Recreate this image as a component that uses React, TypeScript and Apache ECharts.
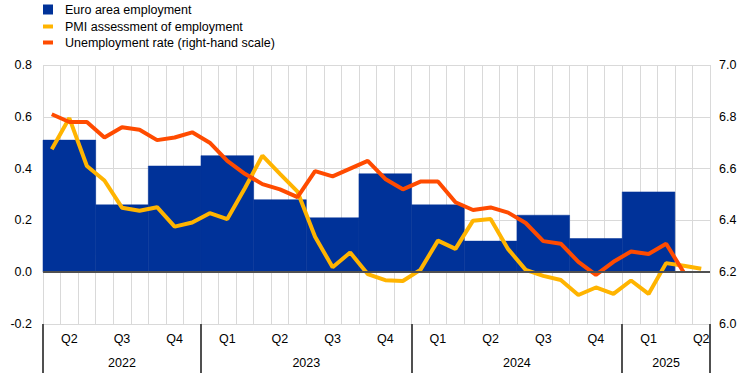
import React, { useEffect, useRef } from "react";
import * as echarts from "echarts";

const months = [
  "Apr 2022", "May 2022", "Jun 2022", "Jul 2022", "Aug 2022", "Sep 2022", "Oct 2022", "Nov 2022", "Dec 2022",
  "Jan 2023", "Feb 2023", "Mar 2023", "Apr 2023", "May 2023", "Jun 2023", "Jul 2023", "Aug 2023", "Sep 2023",
  "Oct 2023", "Nov 2023", "Dec 2023",
  "Jan 2024", "Feb 2024", "Mar 2024", "Apr 2024", "May 2024", "Jun 2024", "Jul 2024", "Aug 2024", "Sep 2024",
  "Oct 2024", "Nov 2024", "Dec 2024",
  "Jan 2025", "Feb 2025", "Mar 2025", "Apr 2025", "May 2025",
];

const quarterLabels = ["Q2", "Q3", "Q4", "Q1", "Q2", "Q3", "Q4", "Q1", "Q2", "Q3", "Q4", "Q1", "Q2"];

const years = ["2022", "2023", "2024", "2025"];
const yearBounds = [0, 9, 21, 33, 38];

const employment = [0.51, 0.26, 0.41, 0.45, 0.28, 0.21, 0.38, 0.26, 0.12, 0.22, 0.13, 0.31, null];

const pmi = [
  0.475, 0.595, 0.41, 0.354, 0.249, 0.237, 0.251, 0.176, 0.192,
  0.228, 0.205, 0.324, 0.45, 0.38, 0.311, 0.137, 0.019, 0.076, -0.007, -0.031, -0.034,
  0.009, 0.122, 0.09, 0.199, 0.205, 0.089, 0.009, -0.014, -0.03, -0.088, -0.059, -0.084,
  -0.032, -0.084, 0.035, 0.025, 0.013,
];

const unemployment = [
  6.81, 6.78, 6.78, 6.72, 6.76, 6.75, 6.71, 6.72, 6.74,
  6.70, 6.63, 6.58, 6.54, 6.52, 6.49, 6.59, 6.57, 6.60, 6.63, 6.56, 6.52,
  6.55, 6.55, 6.47, 6.44, 6.45, 6.43, 6.39, 6.32, 6.31, 6.24, 6.19, 6.24,
  6.28, 6.27, 6.31, 6.20, null,
];

const BLUE = "#003299";
const YELLOW = "#ffb400";
const ORANGE = "#ff4b00";
const GRID = "#d9d9d9";
const DARK = "#505050";
const FONT = 'Arial, "Liberation Sans", sans-serif';
const FS = 12.5;

export default function App() {
  const ref = useRef<HTMLDivElement>(null);

  useEffect(() => {
    if (!ref.current) return;
    const chart = echarts.init(ref.current, null, { renderer: "svg" });

    const barData = employment
      .map((v, q) => (v == null ? null : [q * 3 + 1, v]))
      .filter((d) => d != null);

    const yearCenters = years.map((_, i) => (yearBounds[i] + yearBounds[i + 1]) / 2);

    const labelStyle = { color: "#000", fontSize: FS, fontFamily: FONT };

    const option: any = {
      animation: false,
      textStyle: { fontFamily: FONT },
      grid: { left: 43, right: 34, top: 65, bottom: 49, containLabel: false },
      legend: [
        {
          data: [{ name: "Euro area employment", icon: "rect" }],
          left: 43,
          top: 3,
          padding: 0,
          itemWidth: 10,
          itemHeight: 10,
          textStyle: { ...labelStyle, padding: [0, 0, 0, 7] },
          selectedMode: false,
        },
        {
          data: [{ name: "PMI assessment of employment", icon: "rect" }],
          left: 43,
          top: 20,
          padding: 0,
          itemWidth: 10,
          itemHeight: 4,
          textStyle: { ...labelStyle, padding: [6, 0, 0, 7] },
          selectedMode: false,
        },
        {
          data: [{ name: "Unemployment rate (right-hand scale)", icon: "rect" }],
          left: 43,
          top: 36,
          padding: 0,
          itemWidth: 10,
          itemHeight: 4,
          textStyle: { ...labelStyle, padding: [6, 0, 0, 7] },
          selectedMode: false,
        },
      ],
      xAxis: [
        {
          type: "category",
          data: months,
          boundaryGap: true,
          axisLine: { show: false },
          axisTick: { show: false },
          splitLine: { show: true, interval: 0, lineStyle: { color: GRID, width: 1 } },
          axisLabel: {
            interval: (idx: number) => idx % 3 === 1,
            formatter: (_v: string, idx: number) => quarterLabels[Math.floor(idx / 3)],
            ...labelStyle,
            margin: 8,
          },
        },
        {
          type: "value",
          position: "bottom",
          min: 0,
          max: 38,
          axisLine: { show: false },
          splitLine: { show: false },
          axisTick: {
            show: true,
            customValues: yearBounds,
            length: 49,
            lineStyle: { color: DARK, width: 2 },
          },
          axisLabel: {
            customValues: yearCenters,
            formatter: (v: number) => {
              const i = yearCenters.indexOf(v);
              return i >= 0 ? years[i] : "";
            },
            ...labelStyle,
            margin: 32,
          },
        },
      ],
      yAxis: [
        {
          type: "value",
          min: -0.2,
          max: 0.8,
          interval: 0.2,
          axisLine: { show: false },
          axisTick: { show: false },
          splitLine: { show: true, lineStyle: { color: GRID, width: 1 } },
          axisLabel: {
            formatter: (v: number) => v.toFixed(1),
            ...labelStyle,
            margin: 11,
          },
        },
        {
          type: "value",
          position: "right",
          min: 6.0,
          max: 7.0,
          interval: 0.2,
          axisLine: { show: false },
          axisTick: { show: false },
          splitLine: { show: false },
          axisLabel: {
            formatter: (v: number) => v.toFixed(1),
            ...labelStyle,
            margin: 9,
          },
        },
      ],
      series: [
        {
          name: "Euro area employment",
          type: "custom",
          xAxisIndex: 0,
          yAxisIndex: 0,
          color: BLUE,
          itemStyle: { color: BLUE },
          z: 1,
          data: barData,
          renderItem: (_params: any, api: any) => {
            const mid = api.value(0);
            const v = api.value(1);
            const p = api.coord([mid, v]);
            const base = api.coord([mid, 0]);
            const bw = api.size([1, 0])[0];
            return {
              type: "rect",
              shape: {
                x: p[0] - 1.5 * bw,
                y: Math.min(p[1], base[1]),
                width: 3 * bw,
                height: Math.abs(base[1] - p[1]),
              },
              style: { fill: BLUE, stroke: BLUE, lineWidth: 0.5 },
            };
          },
        },
        {
          name: "zero",
          type: "line",
          xAxisIndex: 0,
          yAxisIndex: 0,
          data: [],
          z: 2,
          markLine: {
            silent: true,
            symbol: "none",
            label: { show: false },
            lineStyle: { color: DARK, width: 2, type: "solid" },
            data: [{ yAxis: 0 }],
          },
        },
        {
          name: "PMI assessment of employment",
          type: "line",
          xAxisIndex: 0,
          yAxisIndex: 0,
          data: pmi,
          color: YELLOW,
          symbol: "none",
          lineStyle: { color: YELLOW, width: 4 },
          z: 3,
        },
        {
          name: "Unemployment rate (right-hand scale)",
          type: "line",
          xAxisIndex: 0,
          yAxisIndex: 1,
          data: unemployment,
          color: ORANGE,
          symbol: "none",
          lineStyle: { color: ORANGE, width: 4 },
          z: 4,
        },
      ],
    };

    chart.setOption(option);
    return () => chart.dispose();
  }, []);

  return (
    <div
      ref={ref}
      style={{ position: "fixed", left: 0, top: 0, width: 744, height: 373, background: "#fff" }}
    />
  );
}
